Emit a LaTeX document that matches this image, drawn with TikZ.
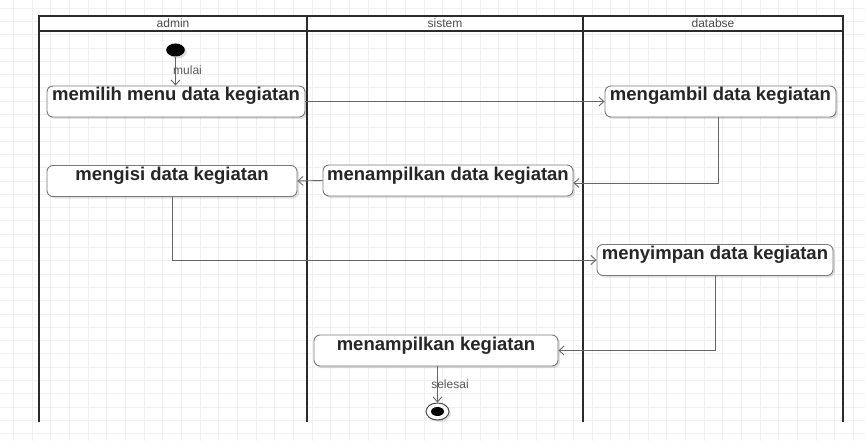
\documentclass[tikz,border=0pt]{standalone}
\usepackage{fontspec}
\setmainfont{Liberation Sans}
\usetikzlibrary{arrows.meta,shadows,shapes.geometric}

\definecolor{gridline}{HTML}{F0F0F0}
\definecolor{lanewallc}{HTML}{2B2B2B}
\definecolor{flowc}{HTML}{666666}
\definecolor{boxline}{HTML}{7A7A7A}
\definecolor{ink}{HTML}{262626}

\tikzset{
  activity/.style={draw=boxline, line width=0.9pt, rounded corners=6pt, fill=white,
    drop shadow={shadow xshift=2pt, shadow yshift=-2pt, opacity=0.12, fill=black},
    text=ink, font=\fontsize{18.5}{20}\selectfont\bfseries,
    minimum height=31pt, inner ysep=2pt, inner xsep=0pt,
    text height=13pt, text depth=14pt},
  flow/.style={draw=flowc, line width=0.9pt, -{Straight Barb[length=5pt,width=9pt]}},
  lanehead/.style={font=\fontsize{12}{13}\selectfont, text=black!70, inner sep=0pt},
  lanewall/.style={draw=lanewallc, line width=1.6pt},
  tag/.style={font=\fontsize{12}{13}\selectfont, text=black!65, inner sep=0pt},
}

\begin{document}
\begin{tikzpicture}[x=1pt, y=-1pt]
  \useasboundingbox (0,0) rectangle (865,441);
  \fill[white] (0,0) rectangle (865,441);

  % background grid
  \foreach \i in {0,...,45}
    \draw[gridline, line width=0.7pt] (13.3+18.67*\i, 0) -- (13.3+18.67*\i, 441);
  \foreach \j in {0,...,32}
    \draw[gridline, line width=0.7pt] (0, 8+13.3*\j) -- (865, 8+13.3*\j);

  % swimlanes
  \filldraw[lanewall, fill=white] (39,16) rectangle (843,31);
  \foreach \x in {39,307,583,843}
    \draw[lanewall] (\x,16) -- (\x,422);
  \node[lanehead] (hadmin) at (173,23.5) {admin};
  \node[lanehead] (hsistem) at (445,23.5) {sistem};
  \node[lanehead] (hdb) at (713,23.5) {databse};

  % activities
  \node[activity, minimum width=258pt] (a1) at (176,101.5) {memilih menu data kegiatan};
  \node[activity, minimum width=231pt] (a2) at (720.5,101.5) {mengambil data kegiatan};
  \node[activity, minimum width=250pt] (a3) at (448,180.5) {menampilkan data kegiatan};
  \node[activity, minimum width=250pt] (a4) at (172,181) {mengisi data kegiatan};
  \node[activity, minimum width=236pt] (a5) at (715,260) {menyimpan data kegiatan};
  \node[activity, minimum width=244pt] (a6) at (436,350.5) {menampilkan kegiatan};

  % initial and final states
  \node[ellipse, fill=black, minimum width=18.6pt, minimum height=13pt, inner sep=0pt,
        drop shadow={shadow xshift=2pt, shadow yshift=-2pt, opacity=0.12, fill=black}] (start) at (175.5,50) {};
  \node[ellipse, draw=black!70, line width=1pt, fill=white, minimum width=23pt, minimum height=17pt,
        inner sep=0pt, drop shadow={shadow xshift=2pt, shadow yshift=-2pt, opacity=0.12, fill=black}] (stop) at (437.5,411.5) {};
  \node[ellipse, fill=black, minimum width=13pt, minimum height=9pt, inner sep=0pt] (stopdot) at (stop) {};

  % control flow
  \draw[flow] (start.south) -- (start.south |- a1.north);
  \node[tag, anchor=west] (mulai) at (173,70) {mulai};
  \draw[flow] (a1.east) -- (a2.west);
  \draw[flow] ([xshift=-2.5pt]a2.south) |- ([yshift=-2.5pt]a3.east);
  \draw[flow] (a3.west) -- (a4.east);
  \draw[flow] (a4.south) |- (a5.west);
  \draw[flow] (a5.south) |- (a6.east);
  \draw[flow] (a6.south -| stop.north) -- (stop.north);
  \node[tag] (selesai) at (450,384) {selesai};
\end{tikzpicture}
\end{document}
